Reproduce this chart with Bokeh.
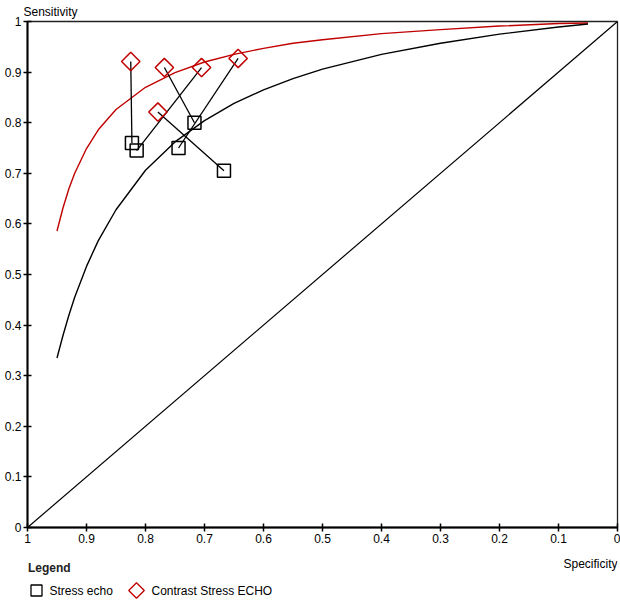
import math
from bokeh.plotting import figure
from bokeh.layouts import column
from bokeh.models import Range1d, FixedTicker, Title
from bokeh.core.properties import value
from bokeh.embed import file_html
from bokeh.resources import INLINE

# ---- data ----
tick_values = [0.0, 0.1, 0.2, 0.3, 0.4, 0.5, 0.6, 0.7, 0.8, 0.9, 1.0]
tick_labels = ["0", "0.1", "0.2", "0.3", "0.4", "0.5", "0.6", "0.7", "0.8", "0.9", "1"]

# Stress echo (squares)
se_spec = [0.823, 0.815, 0.717, 0.744, 0.667]
se_sens = [0.760, 0.745, 0.800, 0.750, 0.705]
# Contrast Stress ECHO (diamonds), paired with the stress echo studies above
ce_spec = [0.825, 0.705, 0.768, 0.643, 0.779]
ce_sens = [0.921, 0.909, 0.909, 0.927, 0.821]

# SROC curves
curve_spec = [0.95, 0.94, 0.93, 0.92, 0.90, 0.88, 0.85, 0.80, 0.75, 0.70, 0.65,
              0.60, 0.55, 0.50, 0.40, 0.30, 0.20, 0.10, 0.05]
sroc_contrast = [0.586, 0.631, 0.669, 0.700, 0.749, 0.786, 0.826, 0.870, 0.899, 0.920, 0.935,
                 0.947, 0.957, 0.964, 0.976, 0.984, 0.991, 0.996, 0.997]
sroc_stress = [0.335, 0.379, 0.419, 0.455, 0.516, 0.567, 0.628, 0.706, 0.762, 0.804, 0.838,
               0.865, 0.887, 0.906, 0.935, 0.957, 0.975, 0.989, 0.995]

diag_spec = [1.0, 0.0]
diag_sens = [0.0, 1.0]

series_names = ["Stress echo", "Contrast Stress ECHO"]
x_title = "Specificity"
y_title = "Sensitivity"
legend_title = "Legend"

RED = "#c00000"
FONT = "Liberation Sans"
W = 620
FRAME_L, FRAME_R = 27, 617

p = figure(width=W, height=545, output_backend="svg", toolbar_location=None,
           x_range=Range1d(1, 0), y_range=Range1d(0, 1),
           min_border_top=19, min_border_right=W - FRAME_R, min_border_left=FRAME_L,
           min_border_bottom=18)
p.grid.visible = False
p.outline_line_color = "#222222"
p.outline_line_width = 1.3
p.background_fill_color = "white"
p.border_fill_color = "white"

for ax in (p.xaxis[0], p.yaxis[0]):
    ax.ticker = FixedTicker(ticks=tick_values)
    ax.major_label_overrides = dict(zip(tick_values, tick_labels))
    ax.minor_tick_line_color = None
    ax.major_tick_in = 4
    ax.major_tick_out = 4
    ax.major_tick_line_width = 1.5
    ax.major_tick_line_color = "black"
    ax.axis_line_width = 2
    ax.axis_line_color = "black"
    ax.major_label_text_font = FONT
    ax.major_label_text_font_size = "12px"
    ax.major_label_text_color = "black"
    ax.major_label_standoff = 2

p.line(diag_spec, diag_sens, line_color="black", line_width=1.2)
p.line(curve_spec, sroc_contrast, line_color=RED, line_width=1.4)
p.line(curve_spec, sroc_stress, line_color="black", line_width=1.4)
p.segment(x0=se_spec, y0=se_sens, x1=ce_spec, y1=ce_sens, line_color="black", line_width=1.3)
p.scatter(se_spec, se_sens, marker="square", size=13, fill_color=None,
          line_color="black", line_width=1.5)
p.scatter(ce_spec, ce_sens, marker="square", angle=math.pi / 4, size=13, fill_color=None,
          line_color=RED, line_width=1.5)

p.add_layout(Title(text=y_title, align="left", offset=-4, standoff=5,
                   text_font=FONT, text_font_size="12px", text_font_style="normal",
                   text_color="black"), "above")

# ---- legend strip (below the axis); its x range is in page pixels, aligned to the frame ----
LH = 54
lg = figure(width=W, height=LH, output_backend="svg", toolbar_location=None,
            x_range=Range1d(FRAME_L, FRAME_R), y_range=Range1d(0, LH),
            x_axis_type=None, y_axis_type=None,
            min_border_top=0, min_border_bottom=0,
            min_border_left=FRAME_L, min_border_right=W - FRAME_R, outline_line_color=None)
lg.grid.visible = False
row1, row2, row_x = 32, 9, 36
lg.text(x=[FRAME_L + 0.5], y=[row1], text=[legend_title], text_font=value(FONT),
        text_font_size="12px", text_font_style="bold", text_baseline="middle",
        text_align="left", text_color="#222222")
lg.text(x=[FRAME_R], y=[row_x], text=[x_title], text_font=value(FONT), text_font_size="12px",
        text_baseline="middle", text_align="right", text_color="black")
lg.scatter(x=[36], y=[row2], marker="square", size=11, fill_color=None,
           line_color="black", line_width=1.3)
lg.scatter(x=[136], y=[row2], marker="square", angle=math.pi / 4, size=11, fill_color=None,
           line_color=RED, line_width=1.3)
lg.text(x=[49, 151], y=[row2, row2], text=series_names, text_font=value(FONT),
        text_font_size="12px", text_baseline="middle", text_align="left", text_color="black")

layout = column(p, lg, spacing=0)
open("out.html", "w").write(file_html(layout, INLINE))
